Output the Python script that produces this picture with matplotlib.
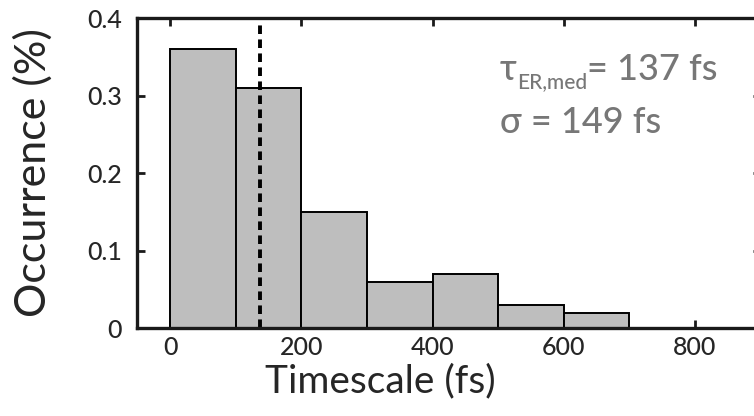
import matplotlib

matplotlib.use("Agg")
import matplotlib.pyplot as plt

# Histogram of timescales (bin left edges in fs, occurrence fraction)
bin_edges = [0, 100, 200, 300, 400, 500, 600]
bin_width = 100
occurrence = [0.36, 0.31, 0.15, 0.06, 0.07, 0.03, 0.02]
tau_median = 137
sigma = 149
x_ticks = [0, 200, 400, 600, 800]
y_ticks = [0, 0.1, 0.2, 0.3, 0.4]
y_tick_labels = ["0", "0.1", "0.2", "0.3", "0.4"]

plt.rcParams["font.family"] = ["Lato", "DejaVu Sans"]
plt.rcParams["font.weight"] = "medium"
dark = "#262626"
grey = "#777777"

fig = plt.figure(figsize=(7.54, 4.16), dpi=100)
ax = fig.add_axes([0.182, 0.2115, 0.8268, 0.745])

ax.bar(bin_edges, occurrence, width=bin_width, align="edge",
       color="#bebebe", edgecolor="black", linewidth=1.4, zorder=2)
ax.axvline(tau_median, color="black", linewidth=2.8,
           linestyle=(0, (2.2, 1.4)), zorder=3)

ax.set_xlim(-50, 900)
ax.set_ylim(0, 0.4)
ax.set_xticks(x_ticks)
ax.set_yticks(y_ticks)
ax.set_yticklabels(y_tick_labels)

for side in ax.spines.values():
    side.set_linewidth(2.4)
    side.set_color("#1a1a1a")
    side.set_zorder(4)
ax.tick_params(direction="in", length=6, width=2, color="#1a1a1a",
               top=True, right=True, labelsize=18, labelcolor=dark)
ax.tick_params(axis="x", pad=6)
ax.tick_params(axis="y", pad=11)

ax.set_xlabel("Timescale (fs)", fontsize=28, color=dark)
ax.xaxis.set_label_coords(0.39, -0.115)
ax.set_ylabel("Occurrence (%)", fontsize=31, color=dark)
ax.yaxis.set_label_coords(-0.135, 0.5)

# Median and spread annotation
t_tau = ax.text(0.582, 0.80, "\u03c4", transform=ax.transAxes,
                fontsize=26, color=grey, va="baseline", ha="left")
t_sub = ax.annotate("ER,med", xy=(1, 0), xycoords=t_tau, xytext=(0, -4),
                    textcoords="offset points", fontsize=15, color=grey,
                    va="bottom", ha="left")
ax.annotate(f"= {tau_median} fs", xy=(1, 0), xycoords=t_sub, xytext=(0, 4),
            textcoords="offset points", fontsize=26, color=grey,
            va="bottom", ha="left")
ax.text(0.582, 0.628, f"\u03c3 = {sigma} fs", transform=ax.transAxes,
        fontsize=26, color=grey, va="baseline", ha="left")

fig.savefig("out.png", dpi=100)
